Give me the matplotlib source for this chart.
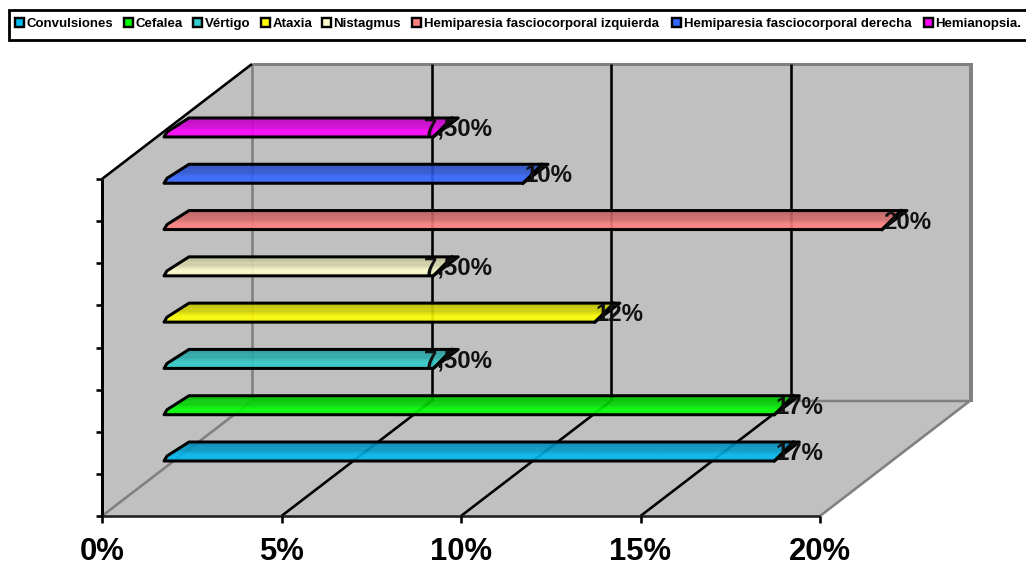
import numpy as np
import matplotlib
matplotlib.use("Agg")
import matplotlib.pyplot as plt
from matplotlib.colors import to_rgb
from matplotlib.patches import Polygon, Rectangle
from matplotlib.transforms import Affine2D

plt.rcParams['font.family'] = ['Liberation Sans', 'DejaVu Sans']

categories = ['Convulsiones', 'Cefalea', 'Vértigo', 'Ataxia', 'Nistagmus',
              'Hemiparesia fasciocorporal izquierda',
              'Hemiparesia fasciocorporal derecha', 'Hemianopsia.']
values = [17, 17, 7.5, 12, 7.5, 20, 10, 7.5]
value_labels = ['17%', '17%', '7,50%', '12%', '7,50%', '20%', '10%', '7,50%']
colors = ['#00B8F0', '#00FF00', '#33CCCC', '#FFFF00', '#FFFFCC', '#FF8080', '#3366FF', '#FF00FF']
x_ticks = [0, 5, 10, 15, 20]
x_tick_labels = ['0%', '5%', '10%', '15%', '20%']

W, H = 1026, 563
PX_PER_PCT = 35.9      # horizontal scale of the value axis
PX_PER_BAR = 46.29     # vertical distance between bars

fig = plt.figure(figsize=(W / 100, H / 100), dpi=100, facecolor='white')
ax = fig.add_axes([0, 0, 1, 1])
ax.axis('off')

# pixel coordinates, y going down, for the box and legend
px = Affine2D().scale(1, -1).translate(0, H)
LW = 0.72  # one pixel in points


def box_line(xs, ys, color='black', width=2.6, z=2):
    ax.plot(xs, ys, color=color, lw=width * LW, transform=px, zorder=z,
            solid_capstyle='butt', clip_on=False)


# walls and floor of the 3d box
box_fill = '#C0C0C0'
grey = '#808080'
for pts in [[(252, 64), (970, 64), (970, 401), (252, 401)],
            [(102, 179), (252, 64), (252, 401), (102, 516)],
            [(102, 516), (820, 516), (970, 401), (252, 401)]]:
    ax.add_patch(Polygon(pts, closed=True, fc=box_fill, ec='none', transform=px, zorder=1))

box_line([252, 970], [64, 64], grey, 3)
box_line([970.5, 970.5], [63, 402], grey, 4)
box_line([252, 970], [401, 401], grey, 2.5)
box_line([820, 971], [516, 400], grey, 2.6)

# gridlines on back wall and floor
for v in x_ticks[:-1]:
    x0 = 102 + v * PX_PER_PCT
    c = grey if v == 0 else 'black'
    box_line([x0 + 150, x0 + 150], [64, 401], c)
    box_line([x0, x0 + 150], [516, 401], c)

# axis lines and ticks
box_line([102, 102], [179, 517], 'black', 3, z=3)
box_line([102, 252], [179, 64], 'black', 2.6, z=3)
box_line([102, 820], [516, 516], '#202020', 2.6, z=3)
for i in range(9):
    y = 179 + i * (516 - 179) / 8
    box_line([96, 102], [y, y], 'black', 2.6, z=3)
for v in x_ticks:
    x0 = 102 + v * PX_PER_PCT
    box_line([x0, x0], [516, 523], 'black', 2.6, z=3)

# bars, value on x and category position on y
BAR_X0 = (164 - 102) / PX_PER_PCT
DEPTH_X = 25 / PX_PER_PCT
DEPTH_Y = 19 / PX_PER_BAR
SIDE_X = 19 / PX_PER_PCT
shade = np.array([0.76, 0.78, 0.84, 0.82, 0.92, 1.0, 1.0, 0.96])

for i, (v, lab, col) in enumerate(zip(values, value_labels, colors)):
    right = BAR_X0 + v
    outline = [(BAR_X0, i), (BAR_X0 + 3 / PX_PER_PCT, i + 5 / PX_PER_BAR),
               (BAR_X0 + DEPTH_X, i + DEPTH_Y), (right + DEPTH_X, i + DEPTH_Y), (right, i)]
    rgb = np.array(to_rgb(col))
    strip = np.zeros((len(shade), 1, 4))
    strip[:, 0, :3] = rgb * shade[:, None]
    strip[:, 0, 3] = 0.9
    im = ax.imshow(strip, extent=(BAR_X0, right + DEPTH_X, i, i + DEPTH_Y), origin='upper',
                   aspect='auto', interpolation='bilinear', zorder=4)
    patch = Polygon(outline, closed=True, fc='none', ec='black', lw=3 * LW,
                    joinstyle='round', zorder=5)
    ax.add_patch(patch)
    im.set_clip_path(patch)
    # narrow end face of the bar
    ax.plot([right, right + SIDE_X], [i, i + DEPTH_Y], color='black', lw=3 * LW, zorder=5)
    ax.text(right + DEPTH_X, i + 1 / PX_PER_BAR, lab, ha='center', va='baseline',
            fontsize=17.3, fontweight='bold', color='#101010', zorder=6)

ax.set_xlim(-102 / PX_PER_PCT, (W - 102) / PX_PER_PCT)
ax.set_ylim((461 - H) / PX_PER_BAR, 461 / PX_PER_BAR)

# value axis labels
for v, lab in zip(x_ticks, x_tick_labels):
    ax.text(v, (461 - 560) / PX_PER_BAR, lab, ha='center', va='baseline',
            fontsize=22.3, fontweight='bold', color='black')

# legend strip along the top, running off the right side
ax.add_patch(Rectangle((8.5, 10), W + 20, 30, fc='white', ec='black', lw=2.8 * LW,
                       transform=px, zorder=7, clip_on=True))
legend_x = [14, 123, 192, 260, 321, 411, 671, 923]
for lx, name, col in zip(legend_x, categories, colors):
    ax.add_patch(Rectangle((lx + 0.5, 18), 9, 9, fc=col, ec='black', lw=2.4 * LW,
                           transform=px, zorder=8))
    ax.text(lx + 12.5, 27, name, ha='left', va='baseline', fontsize=9.5, fontweight='bold',
            color='black', transform=px, zorder=8)

fig.savefig('out.png', dpi=100, facecolor='white')
